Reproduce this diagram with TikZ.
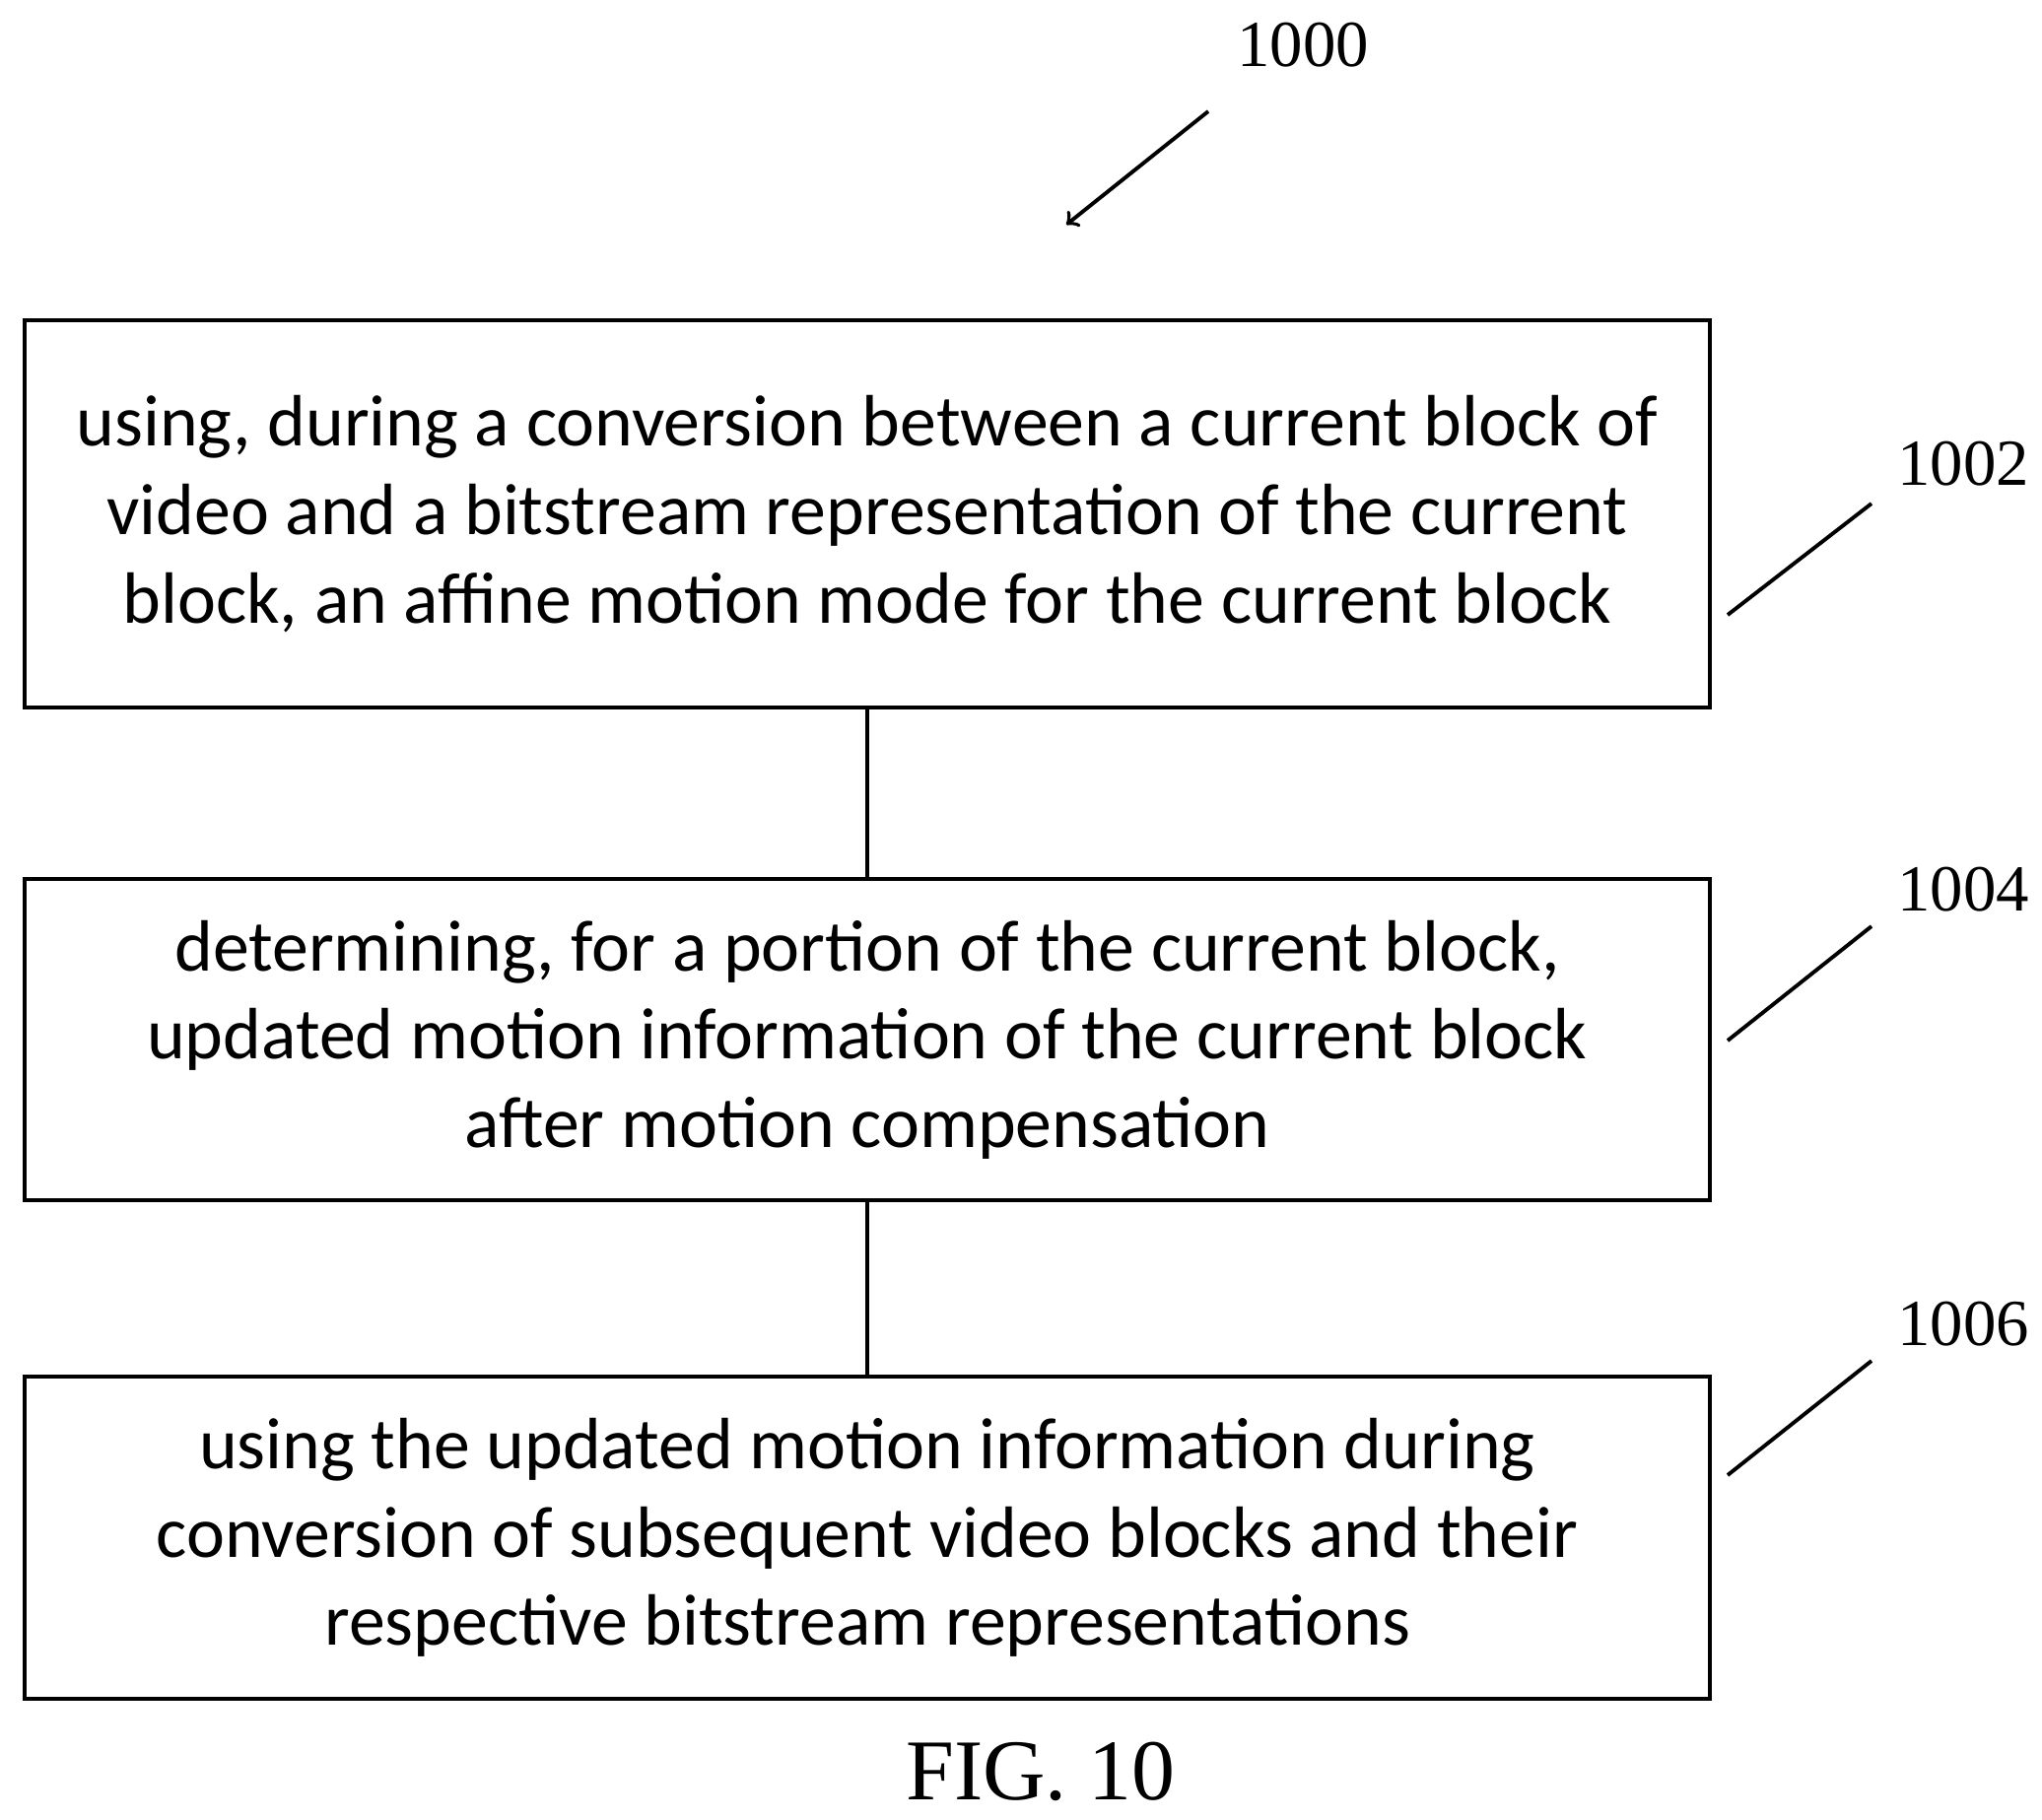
\documentclass[tikz,border=0pt]{standalone}
\usepackage{fontspec}
\setmainfont{Carlito}
\newfontfamily\tnr{Liberation Serif}
\usetikzlibrary{positioning}
\tikzset{
  flowbox/.style={draw,line width=1.2pt,minimum width=17.1cm,inner sep=0pt,align=center,font=\fontsize{21}{25.5}\selectfont},
  ref/.style={font=\tnr\fontsize{19}{23}\selectfont},
  lead/.style={line width=1.1pt}
}
\begin{document}
\begin{tikzpicture}
\useasboundingbox (0,0) rectangle (20.72,-18.46);
\node[flowbox,minimum height=3.93cm] (s1002) at (8.80,-5.215) {using, during a conversion between a current block of\\video and a bitstream representation of the current\\block, an affine motion mode for the current block};
\node[flowbox,minimum height=3.26cm] (s1004) at (8.80,-10.55) {determining, for a portion of the current block,\\updated motion information of the current block\\after motion compensation};
\node[flowbox,minimum height=3.27cm] (s1006) at (8.80,-15.605) {using the updated motion information during\\conversion of subsequent video blocks and their\\respective bitstream representations};
\draw[line width=1.2pt] (s1002) -- (s1004);
\draw[line width=1.2pt] (s1004) -- (s1006);
% reference numbers
\node[ref] (n1000) at (13.22,-0.46) {1000};
\draw[lead,->] (12.26,-1.13) -- (10.82,-2.28);
\node[ref] (n1002) at (19.92,-4.71) {1002};
\draw[lead] (18.99,-5.11) -- (17.53,-6.24);
\node[ref] (n1004) at (19.92,-9.03) {1004};
\draw[lead] (18.99,-9.40) -- (17.53,-10.56);
\node[ref] (n1006) at (19.92,-13.44) {1006};
\draw[lead] (18.99,-13.81) -- (17.53,-14.97);
\node[font=\tnr\fontsize{25}{30}\selectfont] (fig) at (10.56,-17.98) {FIG. 10};
\end{tikzpicture}
\end{document}
